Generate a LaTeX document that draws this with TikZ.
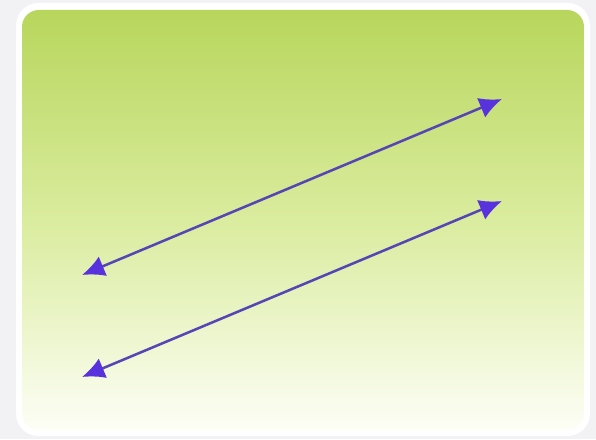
\documentclass[tikz,border=0pt]{standalone}
\usetikzlibrary{arrows.meta}
\definecolor{framegray}{RGB}{242,242,244}
\definecolor{topgreen}{RGB}{184,214,92}
\definecolor{midgreen}{RGB}{218,236,158}
\definecolor{lowgreen}{RGB}{253,254,246}
\definecolor{linepurple}{RGB}{86,70,180}
\definecolor{headpurple}{RGB}{88,50,220}
\begin{document}
\begin{tikzpicture}[x=0.025cm,y=-0.025cm,line cap=round,line join=round,
  twoway/.style={line width=1.8pt,draw=linepurple,
    {Latex[length=16pt,width=15pt,color=headpurple]}-{Latex[length=16pt,width=15pt,color=headpurple]}}]
  \fill[framegray] (0,0) rectangle (596,439);
  \useasboundingbox (0,0) rectangle (596,439);
  \fill[white,rounded corners=16pt] (16,3) rectangle (590,436);
  \shade[rounded corners=12pt,top color=topgreen,bottom color=lowgreen,middle color=midgreen]
    (22,10) rectangle (584,430);
  \coordinate (L1) at (82,275);
  \coordinate (R1) at (502,99);
  \coordinate (L2) at (82,377);
  \coordinate (R2) at (502,201);
  \draw[twoway] (L1) -- (R1);
  \draw[twoway] (L2) -- (R2);
\end{tikzpicture}
\end{document}
